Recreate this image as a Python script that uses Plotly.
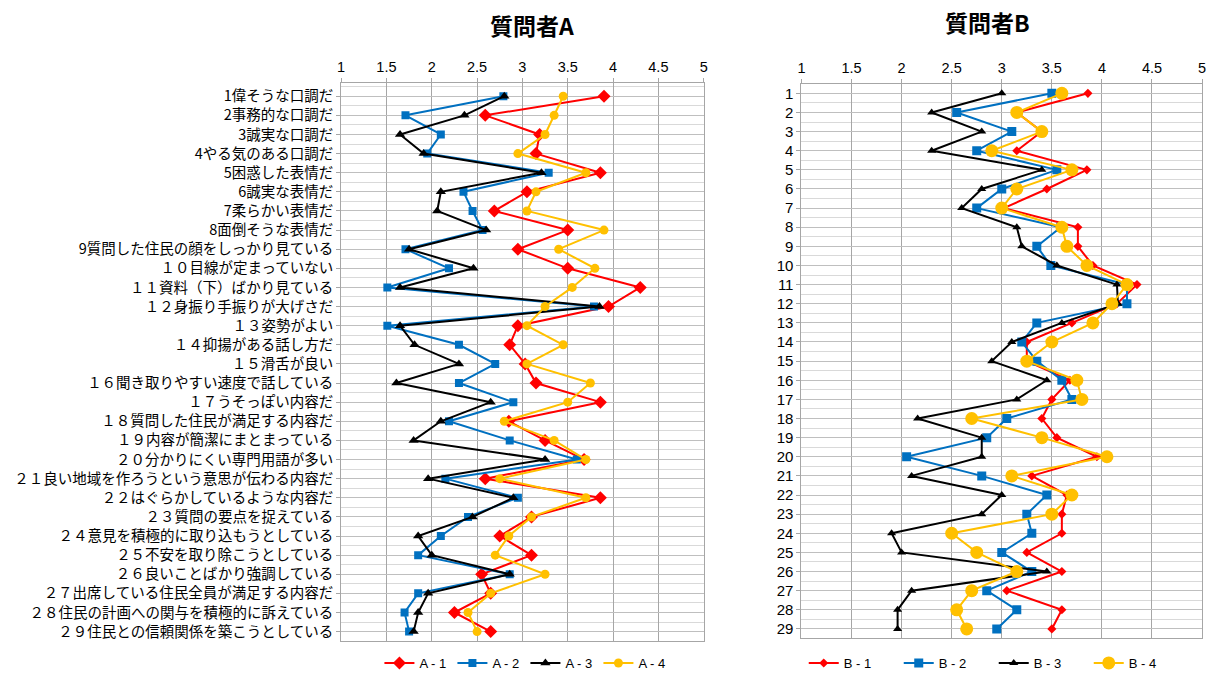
import plotly.graph_objects as go

# Item labels (29 evaluation items)
items = [
    "1偉そうな口調だ", "2事務的な口調だ", "3誠実な口調だ", "4やる気のある口調だ",
    "5困惑した表情だ", "6誠実な表情だ", "7柔らかい表情だ", "8面倒そうな表情だ",
    "9質問した住民の顔をしっかり見ている", "１０目線が定まっていない",
    "１１資料（下）ばかり見ている", "１２身振り手振りが大げさだ", "１３姿勢がよい",
    "１４抑揚がある話し方だ", "１５滑舌が良い", "１６聞き取りやすい速度で話している",
    "１７うそっぽい内容だ", "１８質問した住民が満足する内容だ", "１９内容が簡潔にまとまっている",
    "２０分かりにくい専門用語が多い", "２１良い地域を作ろうという意思が伝わる内容だ",
    "２２はぐらかしているような内容だ", "２３質問の要点を捉えている",
    "２４意見を積極的に取り込もうとしている", "２５不安を取り除こうとしている",
    "２６良いことばかり強調している", "２７出席している住民全員が満足する内容だ",
    "２８住民の計画への関与を積極的に訴えている", "２９住民との信頼関係を築こうとしている",
]
item_no = list(range(1, 30))

# 質問者A: mean scores per item
a1 = [3.90, 2.59, 3.19, 3.15, 3.86, 3.05, 2.69, 3.50, 2.95, 3.50,
      4.30, 3.95, 2.95, 2.86, 3.03, 3.15, 3.86, 2.85, 3.25, 3.68,
      2.59, 3.86, 3.10, 2.75, 3.10, 2.55, 2.65, 2.25, 2.65]
a2 = [2.79, 1.71, 2.10, 1.95, 3.29, 2.35, 2.45, 2.56, 1.71, 2.19,
      1.51, 3.79, 1.51, 2.30, 2.70, 2.30, 2.90, 2.19, 2.86, 3.60,
      2.15, 2.95, 2.40, 2.10, 1.85, 2.86, 1.85, 1.70, 1.75]
a3 = [2.80, 2.36, 1.65, 1.91, 3.21, 2.10, 2.06, 2.60, 1.75, 2.46,
      1.65, 3.85, 1.65, 1.81, 2.30, 1.61, 2.65, 2.10, 1.80, 3.25,
      1.96, 2.90, 2.45, 1.85, 2.00, 2.86, 1.96, 1.85, 1.80]
a4 = [3.45, 3.35, 3.25, 2.95, 3.70, 3.15, 3.05, 3.90, 3.40, 3.80,
      3.55, 3.25, 3.05, 3.45, 3.05, 3.75, 3.50, 2.80, 3.35, 3.70,
      2.75, 3.70, 3.10, 2.85, 2.70, 3.25, 2.65, 2.40, 2.50]

# 質問者B: mean scores per item
b1 = [3.86, 3.15, 3.40, 3.15, 3.85, 3.45, 3.02, 3.76, 3.76, 3.91,
      4.35, 4.15, 3.70, 3.25, 3.25, 3.68, 3.50, 3.40, 3.55, 3.95,
      3.30, 3.65, 3.60, 3.60, 3.25, 3.60, 3.05, 3.60, 3.50]
b2 = [3.50, 2.55, 3.10, 2.75, 3.55, 3.00, 2.75, 3.59, 3.35, 3.49,
      4.25, 4.25, 3.35, 3.20, 3.35, 3.60, 3.70, 3.05, 2.85, 2.05,
      2.80, 3.45, 3.25, 3.30, 3.00, 3.30, 2.85, 3.15, 2.95]
b3 = [3.00, 2.30, 2.80, 2.30, 3.40, 2.80, 2.60, 3.15, 3.20, 3.55,
      4.15, 4.16, 3.60, 3.10, 2.90, 3.45, 3.15, 2.16, 2.80, 2.80,
      2.10, 3.00, 2.80, 1.90, 2.00, 3.45, 2.10, 1.96, 1.96]
b4 = [3.60, 3.15, 3.40, 2.90, 3.70, 3.15, 3.00, 3.60, 3.65, 3.85,
      4.25, 4.10, 3.91, 3.50, 3.25, 3.75, 3.80, 2.70, 3.40, 4.05,
      3.10, 3.70, 3.50, 2.50, 2.75, 3.15, 2.70, 2.55, 2.65]

x_ticks = [1, 1.5, 2, 2.5, 3, 3.5, 4, 4.5, 5]

RED, BLUE, BLACK, GOLD = "#FF0000", "#0070C0", "#000000", "#FFC000"
JP = "Noto Sans CJK JP"

fig = go.Figure()

series_a = [
    ("A - 1", a1, RED, "diamond", 10),
    ("A - 2", a2, BLUE, "square", 8),
    ("A - 3", a3, BLACK, "triangle-up", 9),
    ("A - 4", a4, GOLD, "circle", 9),
]
for name, vals, col, sym, sz in series_a:
    fig.add_trace(go.Scatter(
        x=vals, y=item_no, name=name, mode="lines+markers",
        line=dict(color=col, width=2),
        marker=dict(color=col, symbol=sym, size=sz),
        xaxis="x", yaxis="y", legend="legend",
    ))

series_b = [
    ("B - 1", b1, RED, "diamond", 7),
    ("B - 2", b2, BLUE, "square", 9),
    ("B - 3", b3, BLACK, "triangle-up", 8),
    ("B - 4", b4, GOLD, "circle", 13),
]
for name, vals, col, sym, sz in series_b:
    fig.add_trace(go.Scatter(
        x=vals, y=item_no, name=name, mode="lines+markers",
        line=dict(color=col, width=2),
        marker=dict(color=col, symbol=sym, size=sz),
        xaxis="x2", yaxis="y2", legend="legend2",
    ))

xaxis_common = dict(
    range=[1, 5], side="top", tickvals=x_ticks,
    ticktext=[str(v) for v in x_ticks],
    showgrid=True, gridcolor="#A6A6A6", gridwidth=1,
    showline=True, linecolor="#A6A6A6", linewidth=1, mirror=True,
    ticks="outside", ticklen=4, tickcolor="#A6A6A6",
    tickfont=dict(family="Liberation Sans", size=14.5, color="#000000"),
    zeroline=False, fixedrange=True,
)
yaxis_common = dict(
    tickvals=item_no, showgrid=True, gridcolor="#BFBFBF", gridwidth=1,
    minor=dict(dtick=0.5, tick0=0.5, showgrid=True, gridcolor="#D9D9D9", gridwidth=1),
    showline=True, linecolor="#A6A6A6", linewidth=1, mirror=True,
    ticks="outside", ticklen=4, tickcolor="#A6A6A6",
    zeroline=False, fixedrange=True,
)

fig.update_layout(
    width=1215, height=678,
    margin=dict(l=0, r=0, t=0, b=0),
    paper_bgcolor="white", plot_bgcolor="white",
    font=dict(family=JP, color="#000000"),
    xaxis=dict(domain=[0.2793, 0.5797], anchor="y", **xaxis_common),
    yaxis=dict(domain=[0.0487, 0.8771], anchor="x", range=[29.5, 0.3],
               ticktext=items,
               tickfont=dict(family=JP, size=14.5, color="#000000"),
               **yaxis_common),
    xaxis2=dict(domain=[0.6607, 0.9926], anchor="y2", **xaxis_common),
    yaxis2=dict(domain=[0.0527, 0.8757], anchor="x2", range=[29.5, 0.5],
                ticktext=[str(n) for n in item_no],
                tickfont=dict(family="Liberation Sans", size=15, color="#000000"),
                **yaxis_common),
    legend=dict(orientation="h", x=0.432, xanchor="center", y=0.016, yanchor="middle",
                font=dict(family="Liberation Sans", size=13), entrywidth=28,
                entrywidthmode="pixels", bgcolor="rgba(0,0,0,0)"),
    legend2=dict(orientation="h", x=0.82, xanchor="center", y=0.016, yanchor="middle",
                 font=dict(family="Liberation Sans", size=13), entrywidth=50,
                 entrywidthmode="pixels", bgcolor="rgba(0,0,0,0)"),
    annotations=[
        dict(text="<b>質問者A</b>", x=531 / 1215, y=1 - 25 / 678, xref="paper", yref="paper",
             xanchor="center", yanchor="middle", showarrow=False,
             font=dict(family=JP, size=23, color="#000000")),
        dict(text="<b>質問者B</b>", x=990 / 1215, y=1 - 22 / 678, xref="paper", yref="paper",
             xanchor="center", yanchor="middle", showarrow=False,
             font=dict(family=JP, size=23, color="#000000")),
    ],
)

fig.write_html("out.html")
